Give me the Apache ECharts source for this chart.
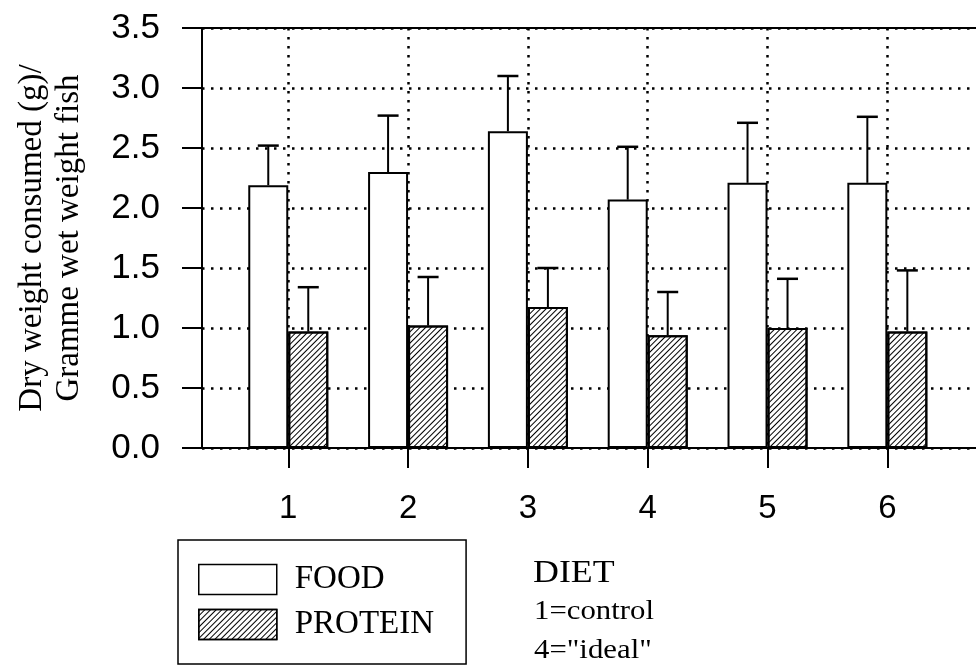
<!DOCTYPE html>
<html><head><meta charset="utf-8">
<script src="https://cdn.jsdelivr.net/npm/echarts@6/dist/echarts.min.js"></script>
<style>html,body{margin:0;padding:0;background:#fff}#c{width:976px;height:666px}</style>
</head><body><div id="c"></div>
<script>
// ---- data ----
const diets = [1, 2, 3, 4, 5, 6];
const foodMean = [2.19, 2.30, 2.64, 2.07, 2.21, 2.21];
const foodSE = [0.33, 0.47, 0.46, 0.44, 0.50, 0.55];
const proteinMean = [0.97, 1.02, 1.175, 0.94, 1.00, 0.97];
const proteinSE = [0.37, 0.405, 0.325, 0.36, 0.41, 0.51];
const yTickValues = [0, 0.5, 1.0, 1.5, 2.0, 2.5, 3.0, 3.5];
const seriesNames = ['FOOD', 'PROTEIN'];
const yTitle = 'Dry weight consumed (g)/\nGramme wet weight fish';
const notes = ['DIET', '1=control', '4="ideal"'];

const chart = echarts.init(document.getElementById('c'), null, {renderer: 'canvas'});
const serif = '"Liberation Serif", "Times New Roman", serif';
const sans = '"Liberation Sans", Arial, sans-serif';
const dotted = {color: '#000', width: 2.5, type: [2.5, 6.5], cap: 'butt'};

function errRender(dx) {
  return function (params, api) {
    const x = api.value(0);
    const p0 = api.coord([x, api.value(1)]);
    const p1 = api.coord([x, api.value(2)]);
    const cx = p0[0] + dx;
    return {
      type: 'group',
      children: [
        {type: 'line', shape: {x1: cx, y1: p0[1], x2: cx, y2: p1[1]}, style: {stroke: '#000', lineWidth: 2}},
        {type: 'line', shape: {x1: cx - 10.5, y1: p1[1], x2: cx + 10.5, y2: p1[1]}, style: {stroke: '#000', lineWidth: 2.5}}
      ]
    };
  };
}

const option = {
  animation: false,
  backgroundColor: '#fff',
  grid: {left: 202, right: 0, top: 28, bottom: 218, containLabel: false},
  xAxis: [{
    type: 'value', min: 0.28, max: 6.74, position: 'bottom',
    axisLine: {show: true, onZero: false, lineStyle: {color: '#000', width: 2}},
    axisTick: {show: true, length: 20, inside: false, customValues: diets, lineStyle: {color: '#000', width: 2}},
    axisLabel: {show: true, customValues: diets, margin: 44, color: '#000', fontSize: 33, fontFamily: sans},
    splitLine: {show: true, lineStyle: dotted}
  }, {
    type: 'value', min: 0.28, max: 6.74, position: 'top',
    axisLine: {show: true, onZero: false, lineStyle: {color: '#000', width: 2}},
    axisTick: {show: false}, axisLabel: {show: false}, splitLine: {show: false}
  }],
  yAxis: {
    type: 'value', min: 0, max: 3.5, interval: 0.5,
    axisLine: {show: true, lineStyle: {color: '#000', width: 2}},
    axisTick: {show: true, length: 20, lineStyle: {color: '#000', width: 2}},
    axisLabel: {margin: 42, color: '#000', fontSize: 35, fontFamily: sans, formatter: v => v.toFixed(1)},
    splitLine: {show: true, lineStyle: dotted},
    name: yTitle, nameLocation: 'middle', nameGap: 114,
    nameTextStyle: {color: '#000', fontSize: 33, fontFamily: serif, lineHeight: 37}
  },
  legend: {
    show: true, data: seriesNames, orient: 'vertical', left: 178, top: 540,
    selectedMode: false, icon: 'rect', itemWidth: 78, itemHeight: 30, itemGap: 12,
    padding: [23, 32, 23, 20], borderColor: '#000', borderWidth: 1.5,
    itemStyle: {borderColor: '#000', borderWidth: 1.5},
    textStyle: {color: '#000', fontSize: 33, fontFamily: serif, padding: [0, 0, 0, 13]}
  },
  series: [{
    name: seriesNames[0], type: 'bar', xAxisIndex: 0, barWidth: 40, barGap: '0%', z: 3,
    data: diets.map((d, i) => [d, foodMean[i]]),
    itemStyle: {color: '#fff', borderColor: '#000', borderWidth: 2}
  }, {
    name: seriesNames[1], type: 'bar', xAxisIndex: 0, barWidth: 40, barGap: '0%', z: 3,
    data: diets.map((d, i) => [d, proteinMean[i]]),
    itemStyle: {
      color: '#fff', borderColor: '#000', borderWidth: 2,
      decal: {symbol: 'rect', symbolSize: 1, dashArrayX: [1, 0], dashArrayY: [1, 3], rotation: -Math.PI / 4, color: '#000'}
    }
  }, {
    name: 'foodErr', type: 'custom', xAxisIndex: 0, z: 4,
    data: diets.map((d, i) => [d, foodMean[i], foodMean[i] + foodSE[i]]),
    encode: {x: 0, y: [1, 2]}, renderItem: errRender(-20)
  }, {
    name: 'proteinErr', type: 'custom', xAxisIndex: 0, z: 4,
    data: diets.map((d, i) => [d, proteinMean[i], proteinMean[i] + proteinSE[i]]),
    encode: {x: 0, y: [1, 2]}, renderItem: errRender(20)
  }],
  graphic: [
    {type: 'text', x: 533, y: 558, scaleX: 1.12, style: {text: notes[0], font: '32px ' + serif, fill: '#000', textVerticalAlign: 'top'}},
    {type: 'text', x: 534, y: 598, scaleX: 1.1, style: {text: notes[1], font: '28px ' + serif, fill: '#000', textVerticalAlign: 'top'}},
    {type: 'text', x: 534, y: 637, scaleX: 1.1, style: {text: notes[2], font: '28px ' + serif, fill: '#000', textVerticalAlign: 'top'}}
  ]
};
chart.setOption(option);
</script>
</body></html>
